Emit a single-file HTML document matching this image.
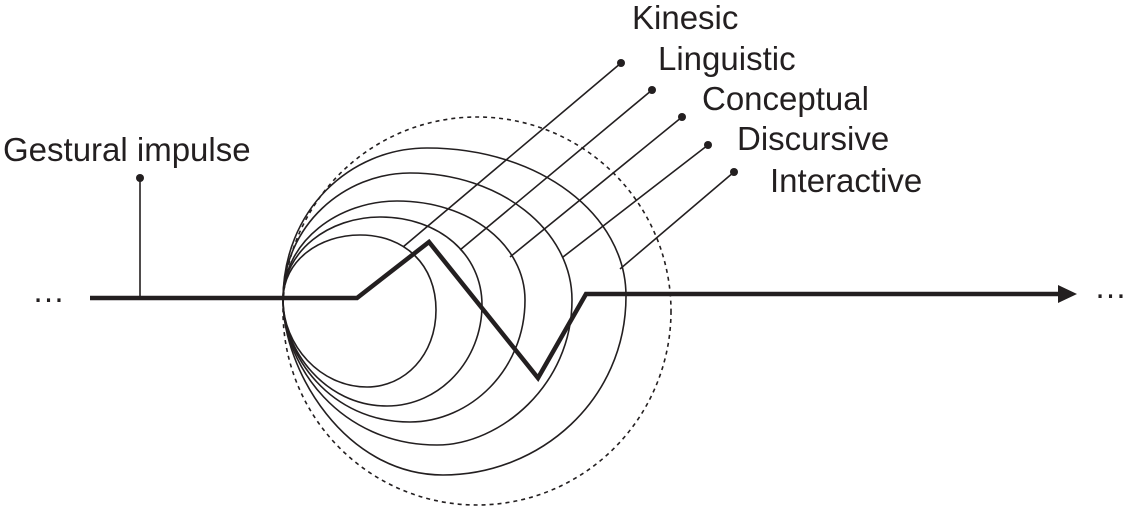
<!DOCTYPE html>
<html><head><style>body{margin:0;background:#fff}svg{display:block}</style></head><body>
<svg width="1134" height="506" viewBox="0 0 1134 506" xmlns="http://www.w3.org/2000/svg" font-family="Liberation Sans, sans-serif" font-size="33" fill="#231f20">
<g fill="none" stroke="#231f20" stroke-width="1.6">
<circle cx="477" cy="311" r="194" stroke-dasharray="4,4"/>
<path d="M283,300 C283,260 320,235 360,235 C405,235 436,265 436,310 C436,355 405,387 367,387 C320,387 283,345 283,300Z"/>
<path d="M283,300 C283,250 330,217 380,217 C440,217 482,255 482,305 C482,360 440,406 387,406 C325,406 283,350 283,300Z"/>
<path d="M283,300 C283,240 340,201 397,201 C470,201 525,245 525,300 C525,370 470,422 410,422 C330,422 283,355 283,300Z"/>
<path d="M283,300 C283,225 345,173 410,173 C500,173 572,230 572,300 C572,385 500,445 437,445 C340,445 283,365 283,300Z"/>
<path d="M283,300 C283,210 350,148 427,148 C540,148 626,215 626,296 C626,400 540,475 443,475 C345,475 283,370 283,300Z"/>
<line x1="140" y1="178" x2="140" y2="298"/>
<line x1="403" y1="247" x2="621" y2="63"/>
<line x1="460" y1="250" x2="652" y2="90"/>
<line x1="510" y1="257" x2="682" y2="117"/>
<line x1="563" y1="257" x2="708" y2="145"/>
<line x1="620" y1="269" x2="734" y2="172"/>
<polyline points="90,298 357,298 429,242 538,378 586,294 1062,294" stroke-width="4.5" stroke-linejoin="miter"/>
</g>
<polygon points="1058,285 1077,294 1058,303"/>
<g>
<circle cx="140" cy="178" r="4"/>
<circle cx="621" cy="63" r="4"/>
<circle cx="652" cy="90" r="4"/>
<circle cx="682" cy="117" r="4"/>
<circle cx="708" cy="145" r="4"/>
<circle cx="734" cy="172" r="4"/>
</g>
<text x="632" y="29">Kinesic</text>
<text x="658" y="70">Linguistic</text>
<text x="702" y="110">Conceptual</text>
<text x="737" y="150">Discursive</text>
<text x="770" y="192">Interactive</text>
<text x="3" y="161">Gestural impulse</text>
<text x="32" y="302">…</text>
<text x="1094" y="298">…</text>
</svg>
</body></html>
